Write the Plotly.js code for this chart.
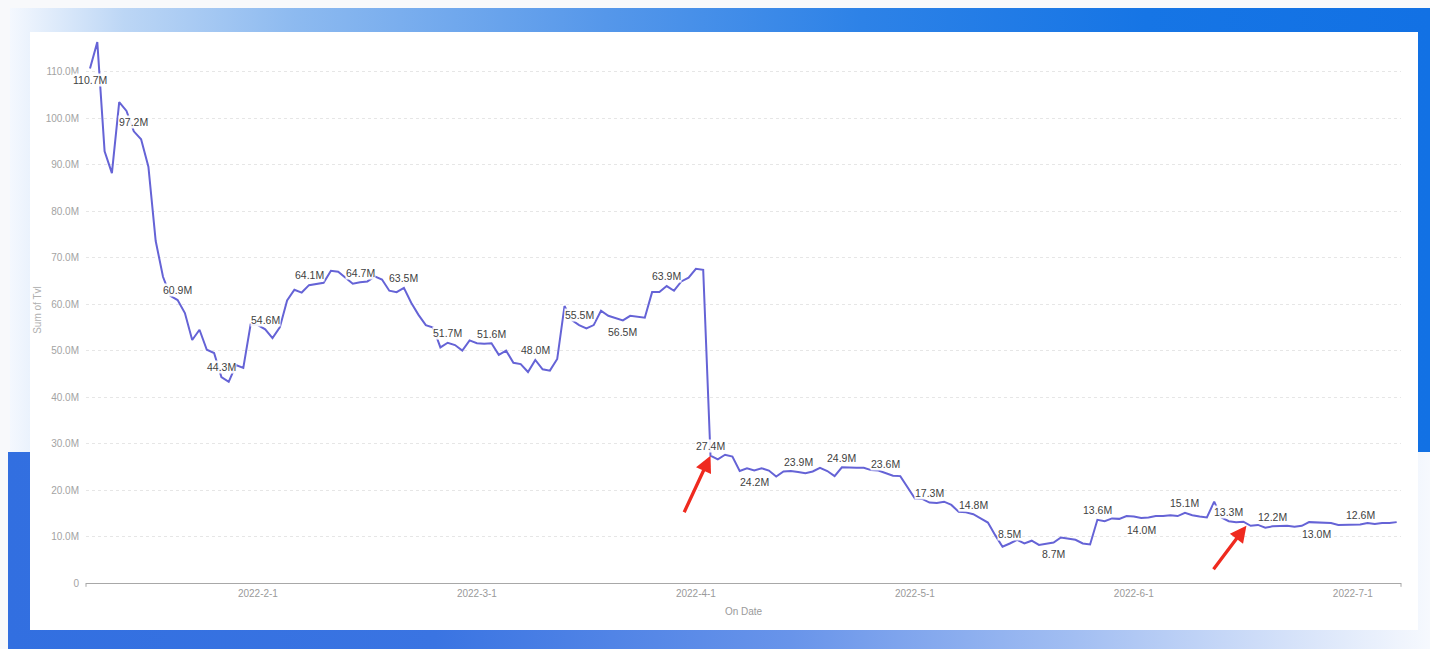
<!DOCTYPE html>
<html>
<head>
<meta charset="utf-8">
<script src="https://cdn.plot.ly/plotly-3.0.1.min.js"></script>
<style>
  html, body { margin: 0; padding: 0; width: 1430px; height: 649px; overflow: hidden; background: #f8f9fb; }
  .band-top {
    position: absolute; left: 10px; top: 8px; width: 1420px; height: 444px;
    background: linear-gradient(90deg, #f4f8fe 0%, #bcd6f5 8%, #8dbaf0 20%, #5597ea 42%, #2d82e7 60%, #1675e5 80%, #1271e4 100%);
  }
  .band-bottom {
    position: absolute; left: 8px; top: 452px; width: 1422px; height: 197px;
    background: linear-gradient(90deg, #326fe0 0%, #3a74e2 30%, #6894ea 55%, #a2bef2 75%, #dbe6fa 92%, #f6f9fe 100%);
  }
  #chart { position: absolute; left: 30px; top: 32px; width: 1388px; height: 598px; background: #fff; }
</style>
</head>
<body>
<div class="band-top"></div>
<div class="band-bottom"></div>
<div id="chart"></div>
<script>
// Daily TVL (in millions), starting 2022-01-09
const startDate = '2022-01-09';
const tvlMillions = [
  110.7, 116.4, 92.9, 88.2, 103.5, 101.6, 97.2, 95.5, 89.6, 73.6,
  65.9, 61.8, 60.9, 58.1, 52.3, 54.5, 50.2, 49.5, 44.3, 43.3,
  46.9, 46.3, 55.6, 55.5, 54.6, 52.7, 55.0, 60.8, 63.1, 62.5,
  64.1, 64.3, 64.6, 67.2, 67.0, 65.7, 64.4, 64.7, 64.9, 66.0,
  65.3, 62.9, 62.6, 63.5, 60.3, 57.7, 55.5, 55.0, 50.7, 51.7,
  51.2, 50.0, 52.2, 51.6, 51.5, 51.6, 49.1, 50.0, 47.4, 47.1,
  45.4, 48.0, 46.0, 45.7, 48.2, 59.6, 56.6, 55.5, 54.8, 55.5,
  58.6, 57.5, 57.0, 56.5, 57.5, 57.3, 57.1, 62.6, 62.6, 63.9,
  62.9, 64.9, 65.7, 67.6, 67.4, 27.4, 26.6, 27.6, 27.2, 24.1,
  24.7, 24.2, 24.7, 24.2, 22.9, 24.0, 24.1, 23.9, 23.6, 24.0,
  24.8, 24.1, 23.0, 24.9, 24.8, 24.8, 24.8, 24.3, 24.2, 23.6,
  23.1, 23.0, 20.5, 18.2, 18.1, 17.3, 17.2, 17.5, 16.8, 15.3,
  15.2, 14.8, 13.9, 13.0, 10.3, 7.8, 8.5, 9.3, 8.5, 9.1,
  8.2, 8.5, 8.7, 9.8, 9.6, 9.3, 8.5, 8.3, 13.6, 13.3,
  13.9, 13.8, 14.4, 14.3, 14.0, 14.1, 14.4, 14.4, 14.6, 14.4,
  15.1, 14.6, 14.3, 14.1, 17.5, 14.1, 13.3, 13.1, 13.2, 12.3,
  12.5, 11.9, 12.2, 12.3, 12.3, 12.1, 12.3, 13.1, 13.0, 13.0,
  12.9, 12.5, 12.5, 12.5, 12.6, 12.9, 12.7, 12.9, 12.9, 13.1
];

// Points that carry a value label, and which of them put it underneath
const labelIndex = [0, 6, 12, 18, 24, 30, 37, 43, 49, 55, 61, 67, 73, 79, 85, 91, 97, 103,
  109, 115, 121, 126, 132, 138, 144, 150, 156, 162, 168, 174];
const labelBelowIndex = [0, 73, 91, 132, 144, 168];

// Points highlighted with a red arrow
const arrowIndex = [85, 158];

const yTickValues = [0, 10, 20, 30, 40, 50, 60, 70, 80, 90, 100, 110];
const yTickLabels = ['0', '10.0M', '20.0M', '30.0M', '40.0M', '50.0M', '60.0M', '70.0M',
  '80.0M', '90.0M', '100.0M', '110.0M'];
// Axis labels sit on every 30th day, starting from 2022-02-01
const xTickDates = ['2022-02-01', '2022-03-03', '2022-04-02', '2022-05-02', '2022-06-01', '2022-07-01'];
const xTickLabels = ['2022-2-1', '2022-3-1', '2022-4-1', '2022-5-1', '2022-6-1', '2022-7-1'];

function addDays(iso, n) {
  const d = new Date(iso + 'T00:00:00Z');
  d.setUTCDate(d.getUTCDate() + n);
  return d.toISOString().slice(0, 10);
}
const dates = tvlMillions.map((_, i) => addDays(startDate, i));

const FONT = 'Liberation Sans, Arial, sans-serif';

const valueLabels = labelIndex.map(i => ({
  x: dates[i], y: tvlMillions[i],
  text: tvlMillions[i].toFixed(1) + 'M',
  showarrow: false,
  yshift: labelBelowIndex.includes(i) ? -11.7 : 9.7,
  bgcolor: 'rgba(255,255,255,0.92)',
  borderpad: 0,
  font: { family: FONT, size: 10.5, color: '#3f3f3f' }
}));

const arrowOffsets = { 85: [-27, 58, 0, 0], 158: [-34, 45, 3, -4] };
const arrows = arrowIndex.map(i => ({
  x: dates[i], y: tvlMillions[i],
  text: '',
  showarrow: true,
  ax: arrowOffsets[i][0], ay: arrowOffsets[i][1],
  xshift: arrowOffsets[i][2], yshift: arrowOffsets[i][3],
  arrowhead: 2, arrowsize: 1, arrowwidth: 3.3,
  arrowcolor: '#ef2a1f', standoff: 0
}));

const trace = {
  type: 'scatter', mode: 'lines',
  x: dates, y: tvlMillions,
  line: { color: '#6563d6', width: 2 },
  hoverinfo: 'x+y'
};

const layout = {
  width: 1388, height: 598,
  margin: { l: 56, r: 17, t: 5, b: 47 },
  paper_bgcolor: '#ffffff', plot_bgcolor: '#ffffff',
  showlegend: false,
  font: { family: FONT, size: 10, color: '#999' },
  xaxis: {
    type: 'date',
    range: ['2022-01-08 10:50', '2022-07-07 14:10'],
    tickvals: xTickDates, ticktext: xTickLabels,
    ticks: '', showgrid: false, zeroline: false,
    showline: true, linecolor: '#a8a8a8', linewidth: 1,
    tickfont: { family: FONT, size: 10, color: '#9a9a9a' },
    ticklabelstandoff: 1,
    title: { text: 'On Date', font: { family: FONT, size: 10, color: '#9a9a9a' }, standoff: 9 },
    automargin: false
  },
  yaxis: {
    range: [0, 117.5],
    tickvals: yTickValues, ticktext: yTickLabels,
    ticks: '', showline: false, zeroline: false,
    showgrid: true, gridcolor: '#e6e6e6', gridwidth: 1, griddash: '3px,3px',
    tickfont: { family: FONT, size: 10, color: '#a3a3a3' },
    ticklabelstandoff: 6,
    title: { text: 'Sum of Tvl', font: { family: FONT, size: 10, color: '#b0b0b0' }, standoff: 2 },
    automargin: false
  },
  shapes: [
    { type: 'line', xref: 'paper', yref: 'paper', x0: 0, x1: 0, y0: 0, y1: -0.007, line: { color: '#a8a8a8', width: 1 } },
    { type: 'line', xref: 'paper', yref: 'paper', x0: 1, x1: 1, y0: 0, y1: -0.007, line: { color: '#a8a8a8', width: 1 } }
  ],
  annotations: valueLabels.concat(arrows)
};

Plotly.newPlot('chart', [trace], layout, { displayModeBar: false, staticPlot: true });
</script>
</body>
</html>
